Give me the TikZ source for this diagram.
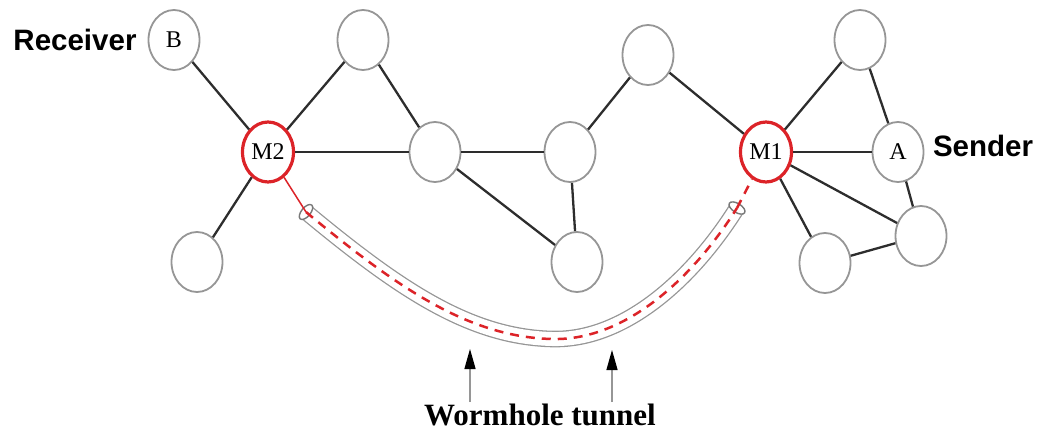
\documentclass[tikz,border=0pt]{standalone}
\usepackage{fontspec}
\setmainfont{Liberation Serif}
\newfontfamily\labelsans{Liberation Sans}
\usetikzlibrary{shapes.geometric,arrows.meta}
\definecolor{nodegray}{RGB}{150,150,150}
\definecolor{edgecol}{RGB}{45,45,45}
\definecolor{wred}{RGB}{220,35,40}
\begin{document}
\begin{tikzpicture}[x=1pt,y=-1pt,
  nd/.style={ellipse,draw=nodegray,line width=1.8pt,minimum width=51pt,minimum height=60pt,inner sep=0pt,fill=white,font=\fontsize{24}{24}\selectfont},
  mal/.style={nd,draw=wred,line width=3.2pt},
  edge/.style={draw=edgecol,line width=2.3pt},
  side/.style={font=\labelsans\bfseries\fontsize{29.5}{30}\selectfont},
  tubecap/.style={sloped,ellipse,draw=nodegray!80!black,line width=1.4pt,fill=white,minimum width=9pt,minimum height=18pt,inner sep=0pt},
  pointer/.style={draw=nodegray,line width=1.3pt,-{Triangle[fill=black,color=black,length=20pt,width=11pt]}}
]
\useasboundingbox (0,0) rectangle (1042,434);
% nodes
\node[nd] (B) at (174,40) {B};
\node[mal] (M2) at (268,152) {M2};
\node[nd] (N1) at (363,40) {};
\node[nd] (N2) at (435,152) {};
\node[nd] (N3) at (570,152) {};
\node[nd] (N4) at (577,262) {};
\node[nd] (N5) at (648,55) {};
\node[mal] (M1) at (766,152) {M1};
\node[nd] (A) at (898,152) {A};
\node[nd] (N6) at (860,40) {};
\node[nd] (N7) at (921,236) {};
\node[nd] (N8) at (825,263) {};
\node[nd] (N9) at (197,262) {};
% edges
\foreach \a/\b in {B/M2,M2/N1,N1/N2,M2/N2,M2/N9,N2/N3,N2/N4,N3/N4,N3/N5,N5/M1,M1/N6,N6/A,M1/A,M1/N7,M1/N8,A/N7,N8/N7}
  \draw[edge] (\a) -- (\b);
% tunnel
\coordinate (T1) at (306,212);
\coordinate (T2) at (737,208);
\draw[draw=nodegray,line width=1.3pt,double=white,double distance=14pt]
  (T1) .. controls (400,290) and (470,337) .. (552,339) node[pos=0,tubecap] (C1) {}
  .. controls (627,341) and (695,275) .. (T2) node[pos=1,tubecap] (C2) {};
\draw[wred,line width=2.5pt,dash pattern=on 9pt off 7pt]
  (T1) .. controls (400,290) and (470,337) .. (552,339) .. controls (627,341) and (695,275) .. (T2);
\draw[wred,line width=1.5pt] (M2) -- (C1.center);
\draw[wred,line width=2.5pt,dash pattern=on 9pt off 7pt] (C2.center) -- (M1);
% labels
\node[side] (recv) at (75,40) {Receiver};
\node[side] (send) at (983,146) {Sender};
\node[font=\bfseries\fontsize{31}{31}\selectfont] (wt) at (540,415) {Wormhole tunnel};
\coordinate (p1a) at (470,402);
\coordinate (p1b) at (470,349);
\coordinate (p2a) at (612,402);
\coordinate (p2b) at (612,350);
\draw[pointer] (p1a) -- (p1b);
\draw[pointer] (p2a) -- (p2b);
\end{tikzpicture}
\end{document}
